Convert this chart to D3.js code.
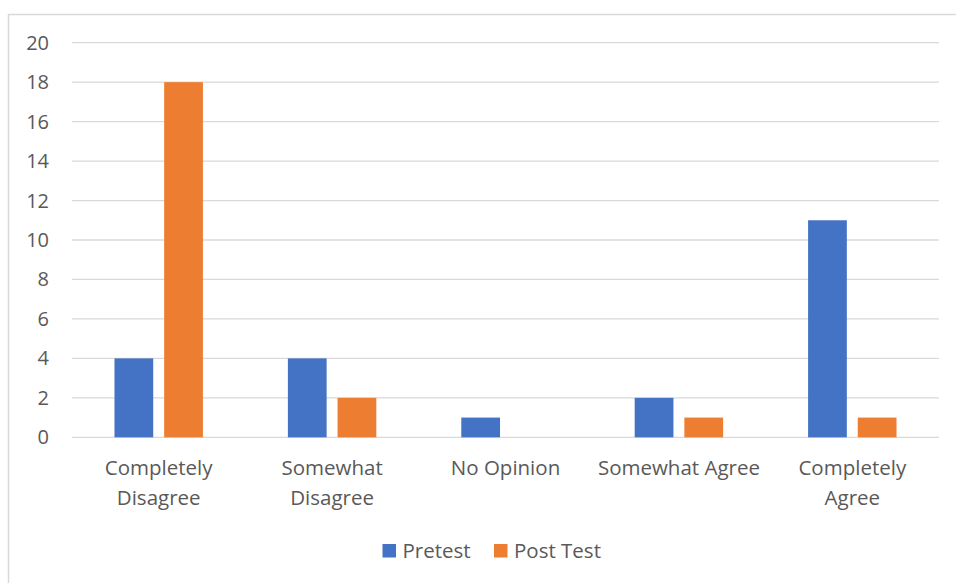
<!DOCTYPE html>
<html><head><meta charset="utf-8">
<script src="https://cdn.jsdelivr.net/npm/d3@7"></script>
<style>body{margin:0;background:#fff;}svg{display:block;font-family:"Open Sans",sans-serif;}</style>
</head><body><svg id="c" width="956" height="583"></svg>
<script>
const categories = [["Completely","Disagree"],["Somewhat","Disagree"],["No Opinion"],["Somewhat Agree"],["Completely","Agree"]];
const seriesNames = ["Pretest","Post Test"];
const pretest = [4,4,1,2,11];
const postTest = [18,2,0,1,1];
const yTicks = [0,2,4,6,8,10,12,14,16,18,20];
const colors = ["#4472C4","#ED7D31"];

(function(){
const svg = d3.select("#c");
svg.append("rect").attr("x",8.5).attr("y",14.5).attr("width",960).attr("height",600)
  .attr("fill","none").attr("stroke","#D9D9D9").attr("stroke-width",1.5);

const pL=72, pR=939, pT=42.7, pB=437.3;
const y = d3.scaleLinear().domain([0,20]).range([pB,pT]);
const idx = categories.map((d,i)=>i);
const x0 = d3.scaleBand().domain(idx).range([pL,pR]).padding(0);
const bw = x0.bandwidth();
const x1 = d3.scaleBand().domain(seriesNames).range([bw*0.245, bw*0.755]).paddingInner(0.22);

svg.append("g").selectAll("line").data(yTicks).join("line")
  .attr("x1",pL).attr("x2",pR).attr("y1",d=>y(d)).attr("y2",d=>y(d))
  .attr("stroke","#D9D9D9").attr("stroke-width",1.3);

svg.append("g").selectAll("text").data(yTicks).join("text")
  .attr("x",49).attr("y",d=>y(d)).attr("dy","0.35em").attr("text-anchor","end")
  .attr("font-size",20).attr("fill","#595959").text(d=>d);

const data = [pretest, postTest];
seriesNames.forEach((s,si)=>{
  svg.append("g").selectAll("rect").data(data[si]).join("rect")
    .attr("x",(d,i)=>x0(i)+x1(s)).attr("width",x1.bandwidth())
    .attr("y",d=>y(d)).attr("height",d=>y(0)-y(d))
    .attr("fill",colors[si]);
});

const cl = svg.append("g").selectAll("text").data(categories).join("text")
  .attr("text-anchor","middle").attr("font-size",20.5).attr("fill","#595959")
  .attr("transform",(d,i)=>`translate(${x0(i)+bw/2},0)`);
cl.selectAll("tspan").data(d=>d).join("tspan")
  .attr("x",0).attr("y",(d,j)=>474.5+j*30).text(d=>d);

const legX=[382.5,494];
const lg = svg.append("g").selectAll("g").data(seriesNames).join("g")
  .attr("transform",(d,i)=>`translate(${legX[i]},544)`);
lg.append("rect").attr("width",13.5).attr("height",13.5).attr("fill",(d,i)=>colors[i]);
lg.append("text").attr("x",20).attr("y",13.5).attr("font-size",20.5)
  .attr("fill","#595959").text(d=>d);
})();
</script></body></html>
